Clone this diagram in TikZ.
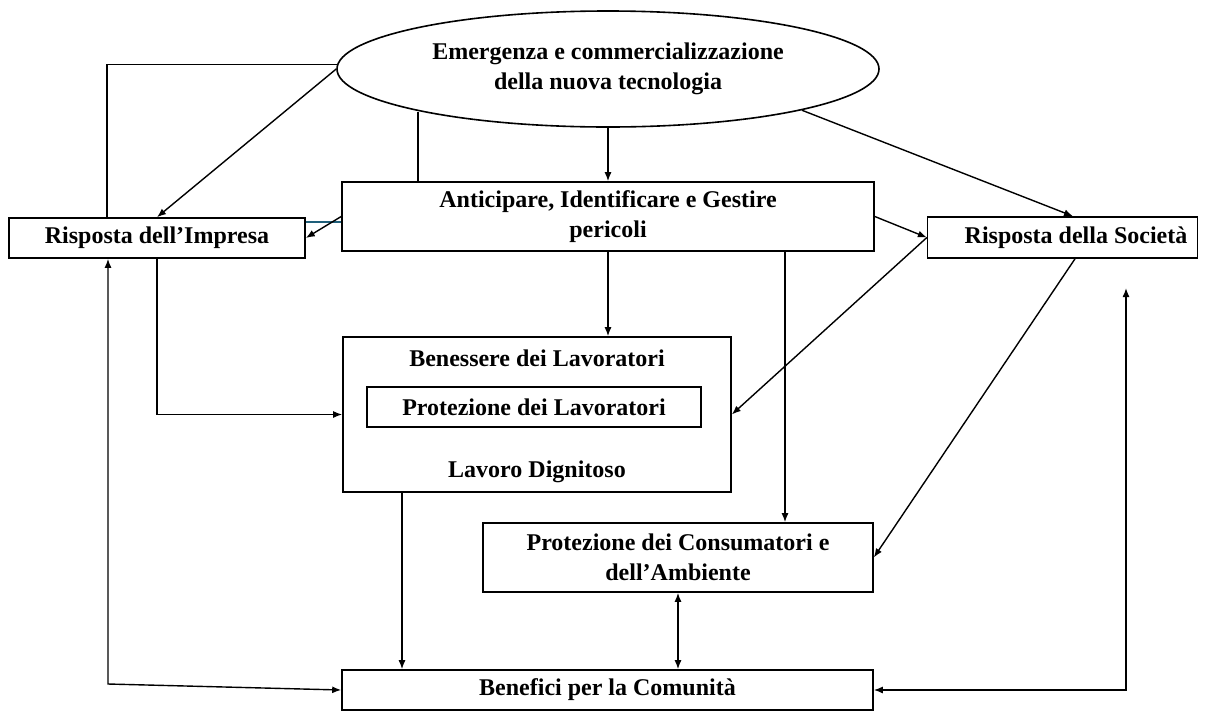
\documentclass[tikz,border=0pt]{standalone}
\usepackage{fontspec}
\setmainfont{Liberation Serif}
\usepackage{xcolor}
\definecolor{linkblue}{RGB}{31,95,122}
\usetikzlibrary{positioning, calc, arrows.meta, shapes.geometric}

\begin{document}
\begin{tikzpicture}[x=1pt, y=-1pt, >={Latex[length=9pt,width=7pt]},
    box/.style={draw, line width=1.6pt, inner sep=0pt, align=center,
        font=\fontsize{24}{29.5}\selectfont\bfseries},
    txt/.style={inner sep=0pt, align=center,
        font=\fontsize{24}{29.5}\selectfont\bfseries},
    link/.style={line width=1.4pt}]

    \useasboundingbox (0,0) rectangle (1212,713);

    % Boxes
    \node[box, ellipse, minimum width=542pt, minimum height=116pt] (emerg) at (608,69)
        {Emergenza e commercializzazione\\della nuova tecnologia};
    \node[box, minimum width=532pt, minimum height=69pt] (antic) at (608,216.5)
        {Anticipare, Identificare e Gestire\\pericoli};
    \node[box, minimum width=296pt, minimum height=40pt] (impresa) at (157,238)
        {Risposta dell’Impresa};
    \node[box, minimum height=41pt, inner xsep=10pt] (societa) at (1062.5,237.5)
        {\hspace*{27pt}Risposta della Società};

    % Benessere box with the inner box
    \node[box, minimum width=388pt, minimum height=155pt] (benessere) at (537,414.5) {};
    \node[txt] (bentitle) at (537,358) {Benessere dei Lavoratori};
    \node[box, minimum width=334pt, minimum height=40pt] (protlav) at (534,407)
        {Protezione dei Lavoratori};
    \node[txt] (dignit) at (537,472) {Lavoro Dignitoso};

    \node[box, minimum width=390pt, minimum height=69pt] (consum) at (678,557.5)
        {Protezione dei Consumatori e\\dell’Ambiente};
    \node[box, minimum width=531pt, minimum height=40pt] (benef) at (607.5,690)
        {Benefici per la Comunità};

    % Helper points for the bends
    \coordinate (kinkA) at (107,64);
    \coordinate (kinkB) at (108,684);
    \coordinate (kinkC) at (1126,288);
    \coordinate (dropA) at (418,112);
    \coordinate (dropB) at (785,0);
    \coordinate (dropC) at (402,0);

    % Connectors from the top
    \draw[link, ->] (emerg.south) -- (antic.north);
    \draw[link] (dropA) -- (dropA |- antic.north);
    \draw[link] (emerg.179) -- (emerg.179 -| kinkA) -- (kinkA |- impresa.north);
    \draw[link, ->] (emerg.west) -- (impresa.north);
    \draw[link, ->] (emerg.-12) -- (societa.north -| 1073,0);

    % Connectors from Anticipare
    \draw[link, draw=linkblue] ([yshift=16pt]impresa.east) -- ([yshift=16pt]impresa.east -| antic.west);
    \draw[link, ->] (antic.west) -- (impresa.east);
    \draw[link, ->] (antic.east) -- (societa.west);
    \draw[link, ->] (antic.south) -- (antic.south |- benessere.north);
    \draw[link, ->] (antic.south -| dropB) -- (consum.north -| dropB);

    % Responses
    \draw[link, ->] (societa.west) -- (benessere.east);
    \draw[link, ->] (societa.south -| 1075,0) -- (consum.east);
    \draw[link, ->] (impresa.south) |- (benessere.west);

    % Towards the community
    \draw[link, ->] (benessere.south -| dropC) -- (benef.north -| dropC);
    \draw[link, <->] (consum.south) -- (consum.south |- benef.north);
    \draw[link, <->] (kinkB |- impresa.south) -- (kinkB) -- (benef.west);
    \draw[link, <->] (kinkC) |- (benef.east);

\end{tikzpicture}
\end{document}
